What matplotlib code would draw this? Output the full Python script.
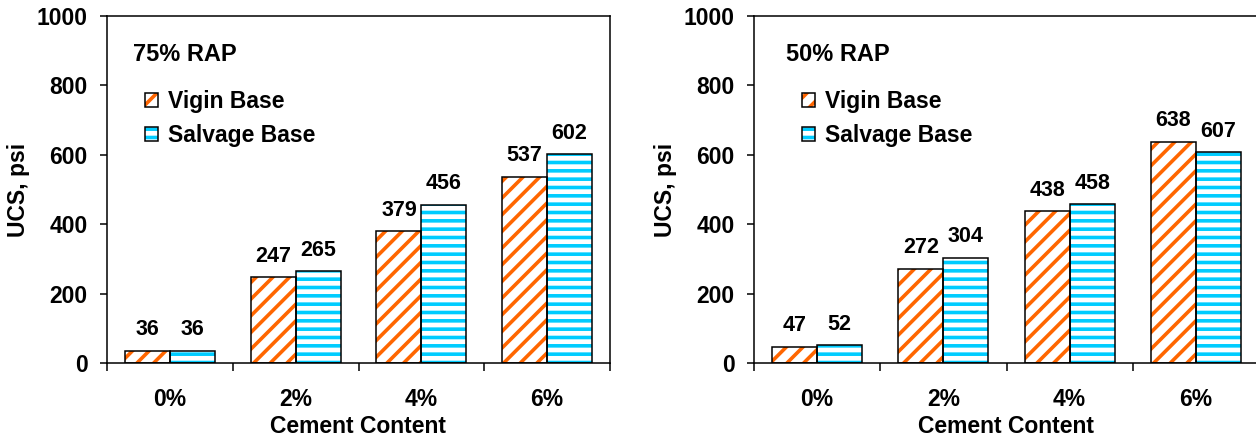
import matplotlib
matplotlib.use('Agg')
import matplotlib.pyplot as plt
import numpy as np
from matplotlib.patches import Patch
from matplotlib.legend_handler import HandlerTuple

plt.rcParams['font.family'] = ['Liberation Sans', 'DejaVu Sans']
plt.rcParams['font.weight'] = 'bold'
plt.rcParams['hatch.linewidth'] = 2.6

# date
categorii = ['0%', '2%', '4%', '6%']
vigin_75 = [36, 247, 379, 537]
salvage_75 = [36, 265, 456, 602]
vigin_50 = [47, 272, 438, 638]
salvage_50 = [52, 304, 458, 607]
titluri = ['75% RAP', '50% RAP']
serii = ['Vigin Base', 'Salvage Base']

portocaliu = '#FF6600'
albastru = '#00CCFF'
latime = 0.357
fs = 16.5

fig = plt.figure(figsize=(12.56, 4.42), dpi=100)
ax1 = fig.add_axes([107 / 1256, 1 - 363 / 442, 503 / 1256, 347 / 442])
ax2 = fig.add_axes([754 / 1256, 1 - 363 / 442, 505 / 1256, 347 / 442])


def bare(ax, x, valori, culoare, hatch):
    ax.bar(x, valori, latime, color='white', edgecolor=culoare, hatch=hatch,
           linewidth=0, zorder=2)
    ax.bar(x, valori, latime, fill=False, edgecolor='black', linewidth=1.1,
           zorder=3)
    for xi, v in zip(x, valori):
        ax.annotate(str(v), (xi, v), xytext=(0, 11), textcoords='offset points',
                    ha='center', va='baseline', fontsize=15.5, fontweight='bold')


def grafic(ax, v1, v2, titlu, x_titlu, x_leg):
    x = np.arange(len(categorii)) + 0.5
    bare(ax, x - latime / 2, v1, portocaliu, '//')
    bare(ax, x + latime / 2, v2, albastru, '--')

    ax.set_xlim(0, 4)
    ax.set_ylim(0, 1000)
    ax.set_yticks(range(0, 1001, 200))
    ax.set_xticks(range(0, 5))
    ax.set_xticklabels([])
    ax.set_xticks(x, minor=True)
    ax.set_xticklabels(categorii, minor=True)
    ax.tick_params(axis='x', which='minor', length=0, pad=18, labelsize=fs)
    ax.tick_params(axis='x', which='major', length=6, width=1.1, direction='out')
    ax.tick_params(axis='y', length=5, width=1.1, direction='out', labelsize=fs, pad=9)
    for s in ax.spines.values():
        s.set_linewidth(1.1)

    ax.set_ylabel('UCS, psi', fontsize=fs, fontweight='bold', labelpad=5)
    ax.set_xlabel('Cement Content', fontsize=fs, fontweight='bold', labelpad=3)
    ax.text(x_titlu, 0.89, titlu, transform=ax.transAxes, fontsize=17,
            fontweight='bold', va='center')

    h1 = (Patch(facecolor='white', edgecolor=portocaliu, hatch='//', linewidth=0),
          Patch(fill=False, edgecolor='black', linewidth=1.1))
    h2 = (Patch(facecolor='white', edgecolor=albastru, hatch='--', linewidth=0),
          Patch(fill=False, edgecolor='black', linewidth=1.1))
    ax.legend([h1, h2], serii, handler_map={tuple: HandlerTuple(ndivide=1)},
              loc='upper left', bbox_to_anchor=(x_leg, 0.786), frameon=False,
              fontsize=fs, handlelength=0.57, handleheight=0.57,
              handletextpad=0.45, labelspacing=0.49, borderpad=0,
              borderaxespad=0)


grafic(ax1, vigin_75, salvage_75, titluri[0], 26 / 503, 38 / 503)
grafic(ax2, vigin_50, salvage_50, titluri[1], 32 / 505, 48 / 505)

fig.savefig('out.png', dpi=100)
